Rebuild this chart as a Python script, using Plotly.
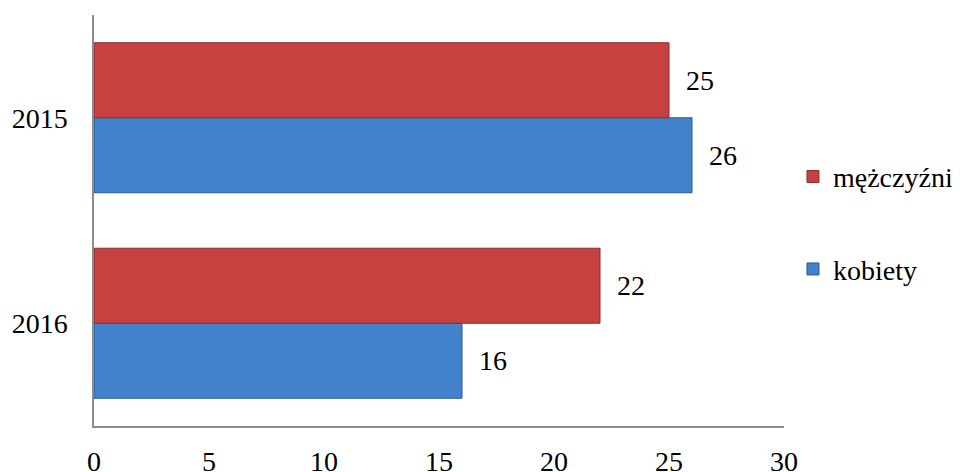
import plotly.graph_objects as go

years = ["2015", "2016"]
kobiety = [26, 16]
mezczyzni = [25, 22]
x_ticks = [0, 5, 10, 15, 20, 25, 30]

FONT = "Liberation Serif"

fig = go.Figure()
fig.add_trace(go.Bar(
    y=years, x=kobiety, name="kobiety", orientation="h",
    marker=dict(color="#4282CB", line=dict(color="#2C5A8E", width=1)),
    texttemplate="\u00a0\u00a0%{x}", textposition="outside",
    textfont=dict(family=FONT, size=28, color="black"),
    legendgroup="k", legendrank=2, cliponaxis=False,
))
fig.add_trace(go.Bar(
    y=years, x=mezczyzni, name="mężczyźni", orientation="h",
    marker=dict(color="#C54240", line=dict(color="#8A2C2B", width=1)),
    texttemplate="\u00a0\u00a0%{x}", textposition="outside",
    textfont=dict(family=FONT, size=28, color="black"),
    legendgroup="m", legendrank=1, cliponaxis=False,
))

# page body has an 8px margin, so the figure is sized/offset to compensate
fig.update_layout(
    width=952, height=464,
    margin=dict(l=86, r=176, t=7, b=46, autoexpand=False),
    paper_bgcolor="white", plot_bgcolor="white",
    barmode="group", bargap=0.27, bargroupgap=0,
    font=dict(family=FONT, size=28, color="black"),
    showlegend=True,
    legend=dict(
        x=1.013, xanchor="left", y=0.667, yanchor="top",
        traceorder="grouped", tracegroupgap=53,
        font=dict(family=FONT, size=28, color="black"),
        bgcolor="rgba(0,0,0,0)",
    ),
    xaxis=dict(
        range=[0, 30], tickvals=x_ticks, ticktext=[str(v) for v in x_ticks],
        showgrid=False, zeroline=False, showline=True, linecolor="#8C8C8C", linewidth=1.5,
        ticks="", ticklabelstandoff=10, automargin=False,
        tickfont=dict(family=FONT, size=28, color="black"),
    ),
    yaxis=dict(
        type="category", categoryorder="array", categoryarray=["2016", "2015"],
        showgrid=False, zeroline=False, showline=True, linecolor="#8C8C8C", linewidth=1.5,
        ticks="", ticklabelstandoff=19, automargin=False,
        tickfont=dict(family=FONT, size=28, color="black"),
    ),
)

fig.write_html("out.html")
